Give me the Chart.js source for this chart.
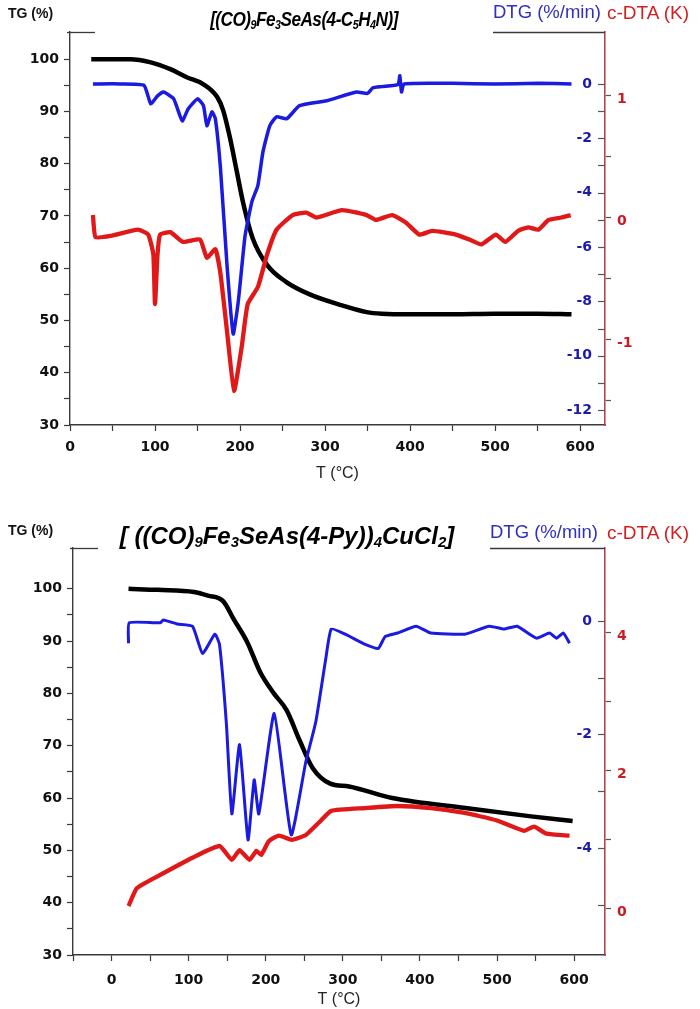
<!DOCTYPE html>
<html><head><meta charset="utf-8">
<script src="https://cdn.jsdelivr.net/npm/chart.js@4"></script>
<style>
html,body{margin:0;padding:0;background:#fff;}
#wrap{position:relative;width:700px;height:1009px;overflow:hidden;background:#fff;font-family:"Liberation Sans",Arial,sans-serif;}
canvas{position:absolute;left:0;}
.lab{position:absolute;white-space:nowrap;line-height:1;}
.tg{font-weight:bold;font-size:14px;color:#111;}
.ttl{font-weight:bold;font-style:italic;color:#000;background:#fff;padding:0 4px;}
.t1{font-size:20px;letter-spacing:-0.6px;transform:translateX(-50%) scaleX(0.86);}
.t2{font-size:24px;letter-spacing:0px;transform:translateX(-50%);}
.ttl sub{font-size:0.62em;vertical-align:-0.22em;line-height:0;}
.dtg{font-size:18.5px;color:#3030c0;}
.dta{font-size:19px;color:#d42020;}
</style></head><body>
<div id="wrap">
<canvas id="c1" width="700" height="500" style="top:0"></canvas>
<canvas id="c2" width="700" height="499" style="top:510px"></canvas>
<div class="lab tg" style="left:8px;top:6px">TG (%)</div>
<div class="lab ttl t1" style="left:304px;top:9px">[(CO)<sub>9</sub>Fe<sub>3</sub>SeAs(4-C<sub>5</sub>H<sub>4</sub>N)]</div>
<div class="lab dtg" style="left:493px;top:3px">DTG (%/min)</div>
<div class="lab dta" style="left:607px;top:3px">c-DTA (K)</div>
<div class="lab tg" style="left:8px;top:523px">TG (%)</div>
<div class="lab ttl t2" style="left:287px;top:524px">[ ((CO)<sub>9</sub>Fe<sub>3</sub>SeAs(4-Py))<sub>4</sub>CuCl<sub>2</sub>]</div>
<div class="lab dtg" style="left:490px;top:523px">DTG (%/min)</div>
<div class="lab dta" style="left:607px;top:523px">c-DTA (K)</div>
</div>
<script>
// ---------- Panel 1: [(CO)9Fe3SeAs(4-C5H4N)] ----------
const tg1T  = [25, 50, 71, 95, 118, 138, 157, 173, 180, 188, 196, 204, 215, 232, 255, 282, 320, 349, 367, 400, 450, 500, 550, 590];
const tg1   = [100, 100, 100, 99.4, 98.1, 96.5, 95.2, 92.8, 90.3, 85.1, 78.7, 72.3, 65.7, 60.6, 57.3, 55.0, 52.9, 51.6, 51.3, 51.2, 51.2, 51.3, 51.3, 51.2];
const dtg1T = [27, 60, 87, 95, 103, 110, 122, 132, 139, 150, 157, 161, 167, 171, 177, 185, 192, 198, 206, 214, 221, 227, 235, 243, 255, 270, 302, 337, 350, 356, 367, 386, 388, 390, 393, 450, 500, 550, 590];
const dtg1  = [0, 0, -0.05, -0.73, -0.44, -0.3, -0.55, -1.36, -0.92, -0.55, -0.8, -1.54, -1.03, -1.28, -3.1, -6.8, -9.2, -8.0, -5.58, -4.33, -3.74, -2.5, -1.54, -1.21, -1.28, -0.8, -0.62, -0.3, -0.35, -0.15, -0.1, -0.02, 0.3, -0.3, 0, 0.02, 0, 0.02, 0];
const dta1T = [27, 30, 48, 80, 92, 98, 100, 103, 106, 118, 133, 153, 161, 171, 177, 185, 193, 202, 209, 221, 232, 243, 262, 278, 290, 320, 349, 360, 379, 395, 411, 426, 454, 473, 484, 501, 512, 527, 539, 551, 563, 578, 589];
const dta1  = [0.02, -0.16, -0.15, -0.1, -0.14, -0.3, -0.71, -0.3, -0.14, -0.12, -0.2, -0.18, -0.33, -0.26, -0.46, -0.95, -1.42, -1.06, -0.71, -0.57, -0.3, -0.1, 0.02, 0.04, 0, 0.06, 0.02, -0.02, 0.02, -0.04, -0.14, -0.11, -0.14, -0.19, -0.22, -0.14, -0.2, -0.11, -0.08, -0.1, -0.02, 0, 0.02];

// ---------- Panel 2: [((CO)9Fe3SeAs(4-Py))4CuCl2] ----------
const tg2T  = [22, 60, 107, 125, 145, 158, 176, 193, 210, 227, 244, 261, 283, 308, 364, 459, 544, 598];
const tg2   = [100, 99.8, 99.4, 98.7, 97.6, 94.3, 89.8, 84.0, 80.1, 76.8, 71.0, 65.7, 62.8, 62.2, 60.0, 58.1, 56.5, 55.6];
const dtg2T = [22, 23, 63, 67, 85, 105, 118, 134, 140, 149, 156, 166, 177, 185, 191, 211, 233, 252, 265, 278, 285, 303, 329, 346, 355, 371, 395, 414, 458, 490, 509, 526, 551, 568, 577, 586, 594];
const dtg2  = [-0.39, -0.03, -0.03, 0.02, -0.05, -0.09, -0.57, -0.23, -0.41, -1.82, -3.4, -2.18, -3.86, -2.8, -3.4, -1.63, -3.77, -2.48, -1.77, -0.65, -0.14, -0.23, -0.41, -0.48, -0.27, -0.21, -0.09, -0.21, -0.23, -0.09, -0.14, -0.09, -0.3, -0.21, -0.3, -0.21, -0.39];
const dta2T = [22, 33, 63, 105, 140, 156, 166, 179, 188, 194, 204, 217, 234, 252, 269, 285, 329, 371, 414, 458, 500, 535, 548, 564, 594];
const dta2  = [0.03, 0.29, 0.48, 0.73, 0.9, 0.7, 0.84, 0.7, 0.83, 0.77, 0.97, 1.05, 0.99, 1.06, 1.24, 1.41, 1.45, 1.48, 1.45, 1.38, 1.27, 1.12, 1.18, 1.08, 1.05];

// tick label sets
const xLabelStep = 100;
const tgLabelStep = 10;

const pts = (xs, ys) => xs.map((x, i) => ({x, y: ys[i]}));
const near = (v, s) => Math.abs(v / s - Math.round(v / s)) < 1e-6;

const AX = '#3a3a3a';
const tickFont = {family: 'DejaVu Sans', weight: 'bold', size: 14};

const extras = {
  id: 'extras',
  afterDraw(chart, args, o) {
    const ctx = chart.ctx, ca = chart.chartArea, s = chart.scales.dtg;
    ctx.save();
    ctx.strokeStyle = '#555'; ctx.lineWidth = 1.2;
    s.ticks.forEach(t => {
      const y = Math.round(s.getPixelForValue(t.value)) + 0.5;
      ctx.beginPath(); ctx.moveTo(ca.right - 7, y); ctx.lineTo(ca.right, y); ctx.stroke();
    });
    ctx.strokeStyle = AX; ctx.lineWidth = 1.3;
    const y0 = Math.round(ca.top) + 0.5;
    o.segs.forEach(([a, b]) => {
      ctx.beginPath(); ctx.moveTo(a, y0); ctx.lineTo(b, y0); ctx.stroke();
    });
    ctx.restore();
  }
};

function makeChart(id, cfg) {
  const fixW = w => s => { s.width = w; };
  new Chart(document.getElementById(id), {
    type: 'line',
    data: {datasets: [
      {data: pts(cfg.dtaT, cfg.dta), yAxisID: 'dta', borderColor: '#e01818', borderWidth: 4.3, pointRadius: 0, tension: 0.15},
      {data: pts(cfg.dtgT, cfg.dtg), yAxisID: 'dtg', borderColor: '#1a1ae0', borderWidth: cfg.blueW, pointRadius: 0, tension: 0.15},
      {data: pts(cfg.tgT, cfg.tg), yAxisID: 'tg', borderColor: '#000', borderWidth: 4.5, pointRadius: 0, cubicInterpolationMode: 'monotone'}
    ]},
    options: {
      responsive: false, animation: false, devicePixelRatio: 1,
      layout: {padding: {top: cfg.top, left: 0, right: 0, bottom: 0}},
      plugins: {legend: {display: false}, tooltip: {enabled: false}, extras: {segs: cfg.segs}},
      scales: {
        x: {
          type: 'linear', position: 'bottom', min: cfg.xmin, max: cfg.xmax,
          afterFit: s => { s.height = cfg.xh; },
          afterBuildTicks: s => { s.ticks = s.ticks.filter(t => near(t.value, 50) && t.value <= 600); },
          ticks: {stepSize: 50, includeBounds: false, autoSkip: false, maxRotation: 0, padding: cfg.xpad, color: '#111', font: tickFont,
                  callback: v => near(v, xLabelStep) ? String(Math.round(v)) : ''},
          grid: {drawOnChartArea: false, tickLength: 6, tickColor: AX, tickWidth: 1.2},
          border: {color: AX, width: 1.4},
          title: {display: true, text: 'T (°C)', color: '#222', font: {family: 'Liberation Sans', size: 16}, padding: {top: 0, bottom: cfg.titlePad}}
        },
        tg: {
          type: 'linear', position: 'left', min: 30, max: cfg.tgmax,
          afterFit: fixW(cfg.left),
          afterBuildTicks: s => { s.ticks = s.ticks.filter(t => near(t.value, 5) && t.value <= 100); },
          ticks: {stepSize: 5, includeBounds: false, autoSkip: false, padding: 5, color: '#111', font: tickFont,
                  callback: v => near(v, tgLabelStep) ? String(Math.round(v)) : ''},
          grid: {drawOnChartArea: false, tickLength: 6, tickColor: AX, tickWidth: 1.2},
          border: {color: AX, width: 1.4}
        },
        dtg: {
          type: 'linear', position: 'right', weight: 0, min: cfg.dtgmin, max: cfg.dtgmax,
          afterFit: fixW(0),
          afterBuildTicks: s => { s.ticks = s.ticks.filter(t => near(t.value, 1) && t.value <= 0 && t.value >= cfg.dtgLow); },
          ticks: {stepSize: 1, includeBounds: false, autoSkip: false, mirror: true, padding: -13, color: '#1c1ca8', font: tickFont,
                  callback: v => near(v, 2) ? String(Math.round(v)) : ''},
          grid: {display: true, drawOnChartArea: false, drawTicks: false},
          border: {display: false}
        },
        dta: {
          type: 'linear', position: 'right', weight: 1, min: cfg.dtamin, max: cfg.dtamax,
          afterFit: fixW(700 - cfg.right),
          afterBuildTicks: s => { s.ticks = s.ticks.filter(t => near(t.value, cfg.dtaStep) && t.value >= cfg.dtaLo && t.value <= cfg.dtaHi); },
          ticks: {stepSize: cfg.dtaStep, includeBounds: false, autoSkip: false, padding: 6, labelOffset: 4, color: '#cc1a22', font: tickFont,
                  callback: v => near(v, cfg.dtaLab) ? String(Math.round(v)) : ''},
          grid: {drawOnChartArea: false, tickLength: 6, tickColor: '#555', tickWidth: 1.2},
          border: {color: '#b84848', width: 1.6}
        }
      }
    },
    plugins: [extras]
  });
}

makeChart('c1', {
  tgT: tg1T, tg: tg1, dtgT: dtg1T, dtg: dtg1, dtaT: dta1T, dta: dta1, blueW: 3.5,
  top: 32, left: 70, right: 605, xh: 75, titlePad: 17, xpad: 8,
  xmin: 0, xmax: 629.4, tgmax: 105.2,
  dtgmin: -12.55, dtgmax: 1.91, dtgLow: -12,
  dtamin: -1.70, dtamax: 1.52, dtaStep: 0.5, dtaLab: 1, dtaLo: -1.5, dtaHi: 1,
  segs: [[67, 95], [493, 605]]
});
makeChart('c2', {
  tgT: tg2T, tg: tg2, dtgT: dtg2T, dtg: dtg2, dtaT: dta2T, dta: dta2, blueW: 3,
  top: 38, left: 73, right: 605, xh: 54, titlePad: 0, xpad: 11,
  xmin: -50, xmax: 640, tgmax: 107.8,
  dtgmin: -5.89, dtgmax: 1.29, dtgLow: -5,
  dtamin: -0.68, dtamax: 5.22, dtaStep: 1, dtaLab: 2, dtaLo: 0, dtaHi: 4,
  segs: [[70, 98], [490, 605]]
});
</script>
</body></html>
